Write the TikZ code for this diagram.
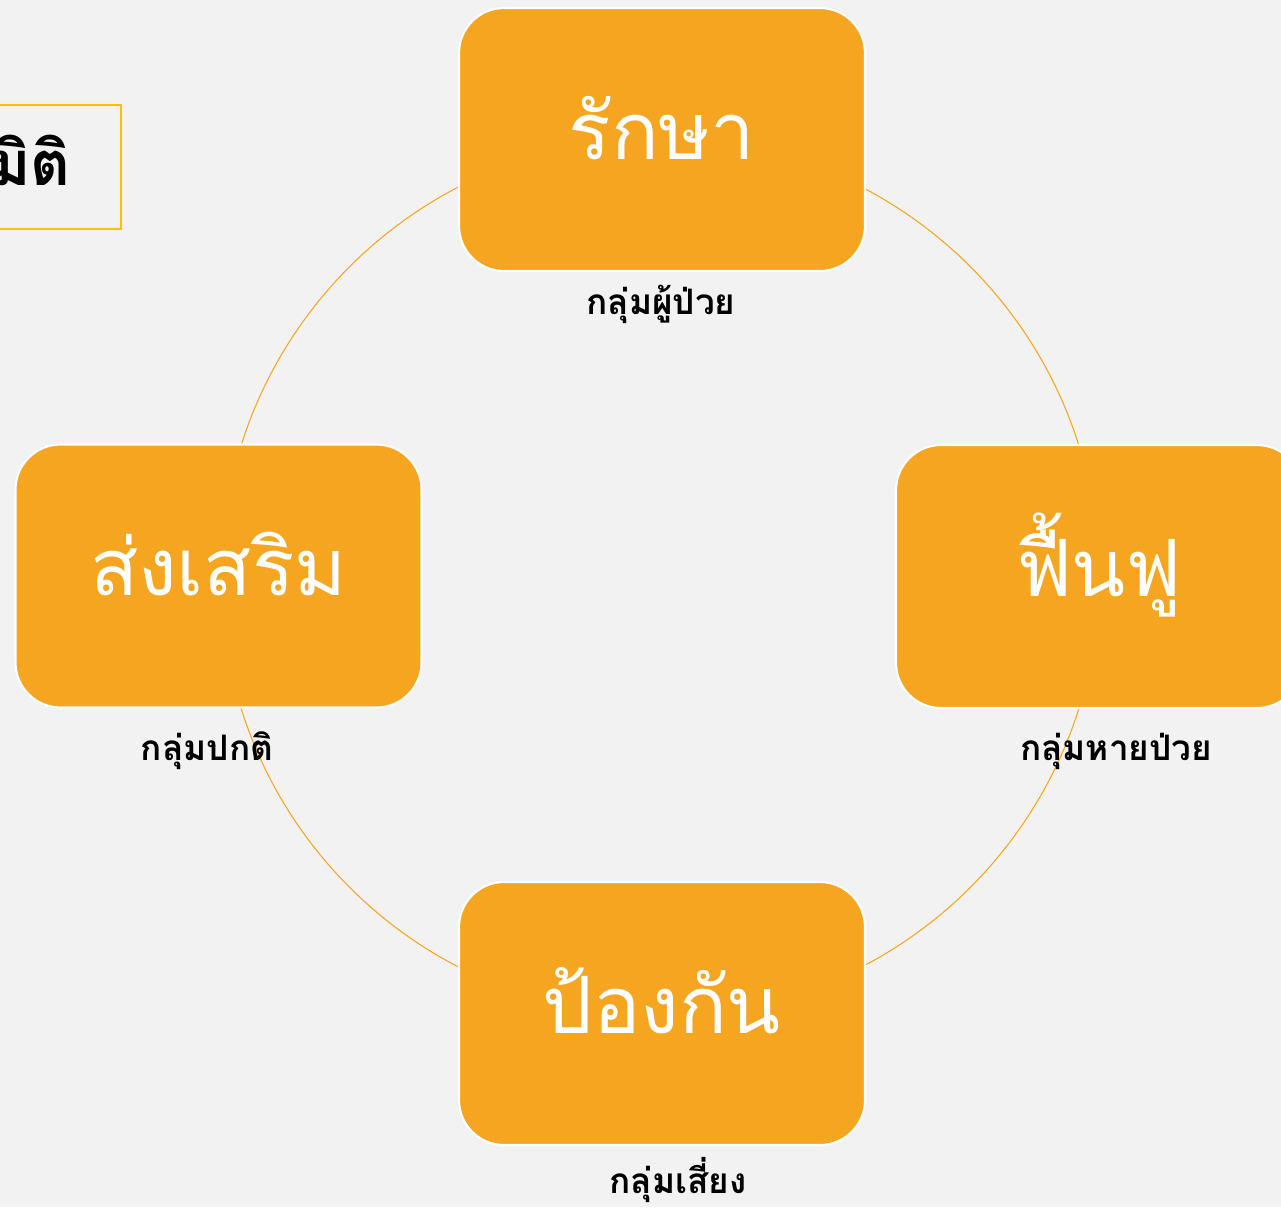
\documentclass[tikz,border=0pt]{standalone}
\usepackage{fontspec}
\newfontfamily\thaifont[Script=Thai]{Loma}
\definecolor{bgGray}{HTML}{F2F2F2}
\definecolor{boxOrange}{HTML}{F6A520}
\definecolor{frameGold}{HTML}{FFC000}
\tikzset{
  stagebox/.style={draw=white, line width=1.2pt, fill=boxOrange, rounded corners=0.9cm,
    minimum width=8.12cm, minimum height=5.26cm, text=white,
    font=\thaifont\fontsize{45}{45}\selectfont, text height=0.78cm, text depth=0cm},
  grouplabel/.style={font=\thaifont\bfseries\fontsize{20}{24}\selectfont, text=black}
}
\begin{document}
\begin{tikzpicture}[x=0.02cm, y=-0.02cm]

    % --- 1. Background ---
    \useasboundingbox (0,0) rectangle (1281,1207);
    \fill[bgGray] (0,0) rectangle (1281,1207);

    % --- 2. Cycle circle ---
    \coordinate (O) at (660,577);
    \draw[boxOrange, line width=0.6pt] (O) circle (8.78cm);

    % --- 3. Title frame (cut off at the left edge) ---
    \node[draw=frameGold, line width=1.2pt, minimum width=3.2cm, minimum height=2.48cm,
          anchor=east] (title) at (122,167) {};
    \node[font=\thaifont\bfseries\fontsize{35}{35}\selectfont, anchor=base east]
          (titletext) at (77,185) {มิติ};

    % --- 4. Stage boxes ---
    \node[stagebox] (treat)   at (662,139.5) {รักษา};
    \node[stagebox] (rehab)   at (1099,576.5) {ฟื้นฟู};
    \node[stagebox] (prevent) at (662,1013.5) {ป้องกัน};
    \node[stagebox] (promote) at (218.5,576) {ส่งเสริม};

    % --- 5. Group labels ---
    \node[grouplabel] (patient) at (661,304)  {กลุ่มผู้ป่วย};
    \node[grouplabel] (healed)  at (1116,751) {กลุ่มหายป่วย};
    \node[grouplabel] (risk)    at (678,1180) {กลุ่มเสี่ยง};
    \node[grouplabel] (normal)  at (207,751)  {กลุ่มปกติ};

\end{tikzpicture}
\end{document}
